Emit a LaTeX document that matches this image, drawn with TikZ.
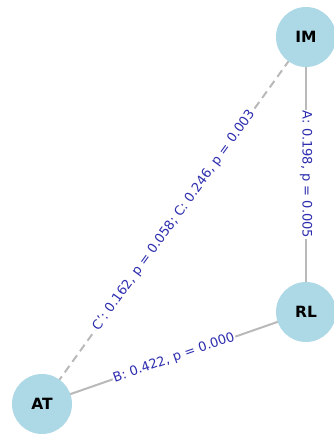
\documentclass[tikz,border=0pt]{standalone}
\usepackage{fontspec}
\setmainfont{DejaVu Sans}
\begin{document}
\begin{tikzpicture}[x=1pt,y=1pt,
  vertex/.style={circle,fill={rgb,255:red,173;green,216;blue,230},minimum size=60pt,inner sep=0pt,font=\fontsize{15.5}{15.5}\selectfont\bfseries},
  link/.style={draw={rgb,255:red,185;green,185;blue,185},line width=2pt},
  dlink/.style={link,dash pattern=on 8pt off 5pt},
  elabel/.style={fill=white,inner sep=1pt,sloped,midway,text={rgb,255:red,45;green,45;blue,175},font=\fontsize{13}{13}\selectfont}]
\useasboundingbox (0,0) rectangle (333,434);
\coordinate (pIM) at (306,397);
\coordinate (pRL) at (306,122);
\coordinate (pAT) at (42,30);
\draw[link] (pIM) -- (pRL) node[elabel] {A: 0.198, p = 0.005};
\draw[link] (pAT) -- (pRL) node[elabel] {B: 0.422, p = 0.000};
\draw[dlink] (pAT) -- (pIM) node[elabel] {C': 0.162, p = 0.058; C: 0.246, p = 0.003};
\node[vertex] (IM) at (pIM) {IM};
\node[vertex] (RL) at (pRL) {RL};
\node[vertex] (AT) at (pAT) {AT};
\end{tikzpicture}
\end{document}
